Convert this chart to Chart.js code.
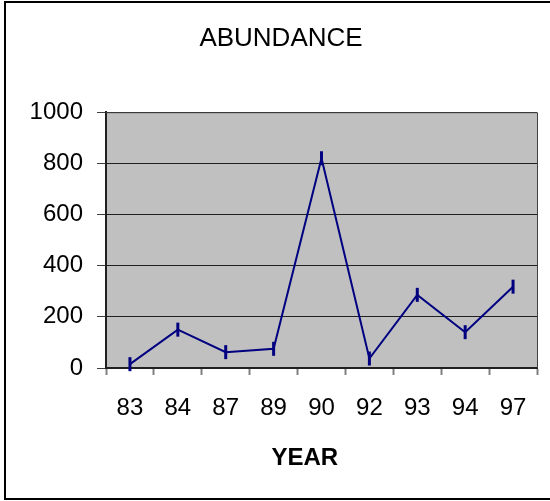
<!DOCTYPE html>
<html>
<head>
<meta charset="utf-8">
<script src="https://cdn.jsdelivr.net/npm/chart.js@4/dist/chart.umd.min.js"></script>
<style>
  html, body { margin: 0; padding: 0; background: #fff; }
  #wrap { width: 550px; height: 501px; }
</style>
</head>
<body>
<div id="wrap"><canvas id="abundanceChart" width="550" height="501"></canvas></div>
<script>
// 年ごとの数（読み取り値）
const years = ['83', '84', '87', '89', '90', '92', '93', '94', '97'];
const abundance = [15, 150, 62, 75, 820, 37, 286, 140, 318];
const yTicks = [0, 200, 400, 600, 800, 1000];

const FONT = "'Liberation Sans', Arial, sans-serif";

// 外枠とグレーの背景
const framePlugin = {
  id: 'frame',
  beforeDraw(chart) {
    const c = chart.ctx;
    const a = chart.chartArea;
    c.save();
    c.fillStyle = '#c0c0c0';
    c.fillRect(a.left, a.top, a.right - a.left, a.bottom - a.top);
    c.strokeStyle = '#000';
    c.lineWidth = 2;
    c.beginPath();
    c.moveTo(560, 2);
    c.lineTo(5, 2);
    c.lineTo(5, 499);
    c.lineTo(560, 499);
    c.stroke();
    c.restore();
  },
  afterDatasetsDraw(chart) {
    const c = chart.ctx;
    const a = chart.chartArea;
    c.save();
    c.strokeStyle = '#404040';
    c.lineWidth = 1;
    c.beginPath();
    c.moveTo(a.left, a.top + 0.5);
    c.lineTo(a.right + 0.5, a.top + 0.5);
    c.lineTo(a.right + 0.5, a.bottom);
    c.stroke();
    c.restore();
  }
};

let ctx = document.getElementById('abundanceChart').getContext('2d');
window.abundanceChart = new Chart(ctx, {
  type: 'line',
  data: {
    labels: years,
    datasets: [{
      label: 'ABUNDANCE',
      data: abundance,
      borderColor: '#000080',
      borderWidth: 2,
      tension: 0,
      pointStyle: 'line',
      rotation: 90,
      pointRadius: 7,
      pointBorderWidth: 3,
      pointBorderColor: '#000080',
      pointBackgroundColor: '#000080',
      clip: false
    }]
  },
  options: {
    responsive: false,
    animation: false,
    events: [],
    layout: { padding: { left: 25, right: 13, top: 0, bottom: 0 } },
    plugins: {
      legend: { display: false },
      tooltip: { enabled: false },
      title: {
        display: true,
        text: 'ABUNDANCE',
        color: '#000',
        font: { family: FONT, size: 26, weight: 'normal' },
        padding: { top: 23, bottom: 58 }
      }
    },
    scales: {
      x: {
        offset: true,
        afterFit(scale) { scale.height = 133; },
        grid: {
          offset: true,
          drawOnChartArea: false,
          drawTicks: true,
          tickLength: 7,
          tickColor: '#808080',
          tickWidth: 2
        },
        border: { display: true, color: '#202020', width: 2 },
        ticks: {
          color: '#000',
          font: { family: FONT, size: 24 },
          padding: 19,
          maxRotation: 0,
          autoSkip: false
        },
        title: {
          display: true,
          text: 'YEAR     ',
          color: '#000',
          font: { family: FONT, size: 24, weight: 'bold' },
          padding: { top: 0, bottom: 28 }
        }
      },
      y: {
        min: yTicks[0],
        max: yTicks[yTicks.length - 1],
        afterFit(scale) { scale.width = 81; },
        afterBuildTicks(scale) { scale.ticks = yTicks.map(v => ({ value: v })); },
        grid: {
          color: '#202020',
          lineWidth: 1,
          drawTicks: true,
          tickLength: 9,
          tickColor: '#404040'
        },
        border: { display: true, color: '#202020', width: 2 },
        ticks: {
          color: '#000',
          font: { family: FONT, size: 24 },
          padding: 14,
          callback: v => String(v)
        }
      }
    }
  },
  plugins: [framePlugin]
});
</script>
</body>
</html>
